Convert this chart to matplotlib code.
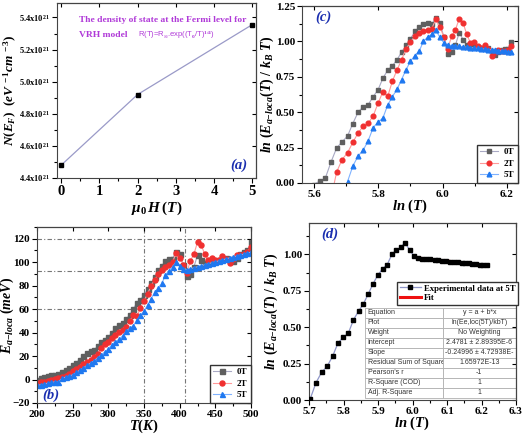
import numpy as np
import matplotlib
matplotlib.use('Agg')
import matplotlib.pyplot as plt
from matplotlib.ticker import MultipleLocator, FuncFormatter

plt.rcParams['font.family'] = ['Liberation Serif', 'DejaVu Serif']
plt.rcParams['font.weight'] = 'bold'
plt.rcParams['axes.labelweight'] = 'bold'
plt.rcParams['mathtext.fontset'] = 'custom'
plt.rcParams['mathtext.rm'] = 'Liberation Serif:bold'
plt.rcParams['mathtext.it'] = 'Liberation Serif:italic:bold'
plt.rcParams['mathtext.bf'] = 'Liberation Serif:bold'
plt.rcParams['axes.linewidth'] = 0.8

# ---------------- data ----------------
# panel (a): density of states at Fermi level (x 1e21 eV^-1 cm^-3)
field_T = [0, 2, 5]
N_EF = [4.48, 4.92, 5.355]

# panel (b): activation energy (meV) vs temperature
temps = list(range(200, 505, 5))
E_0T = [0, 1, 2, 3, 3.5, 4, 5, 6, 8, 10, 12, 14.5, 17, 20, 23, 24, 25, 28.5, 32, 34,
        36, 40, 44, 46.5, 48, 51.5, 55, 60.5, 65, 68, 72, 77, 82, 87, 93, 97, 101, 102.5,
        103, 109, 107, 98, 88, 90, 96, 106, 102, 99, 100, 101, 101, 102, 103, 104, 102,
        101, 104, 107, 109, 110, 117]
E_2T = [-3, -2.5, -2, -1.5, -0.5, 0.5, 1, 2, 3, 5, 7, 9, 11, 13, 15, 17, 19.5, 22, 27, 30,
        32, 35, 38, 40.5, 42, 45, 50, 55, 54, 61, 67, 73, 80, 85, 90, 93, 96, 98,
        100, 108, 104, 98, 91, 101, 107, 117, 115, 107, 102, 104, 102, 102, 105, 103, 99,
        103, 106, 106, 107, 109, 113]
E_5T = [-5, -4.5, -4, -3, -2.5, -2, -2, 1, 2, 3, 4, 6, 8, 10, 12, 14, 16, 18.5, 21, 23.5,
        26.1, 29.6, 32.3, 34.2, 37.2, 41.4, 43.7, 45.7, 50.8, 54.7, 58.4, 63.5, 69.0, 74.3,
        78.4, 81.9, 89.0, 92.9, 96.0, 100.2, 96.5, 93.9, 93.56, 94.41, 95.26, 96.12, 96.96,
        97.80, 98.65, 99.48, 100.32, 101.15, 101.98, 102.81, 103.64, 104.47, 105.29, 106.11,
        106.93, 107.74, 108.59]
series_labels = ['0T', '2T', '5T']

# panel (d): linear fit parameters (from the fit table)
fit_intercept = 2.4781
fit_slope = -0.24996
fit_T_start = 410
table_rows = [
    ["Equation", "y = a + b*x"],
    ["Plot", "ln(Ee,loc(5T)/kbT)"],
    ["Weight", "No Weighting"],
    ["Intercept", "2.4781 \u00b1 2.89395E-6"],
    ["Slope", "-0.24996 \u00b1 4.72938E-"],
    ["Residual Sum of Squares", "1.65972E-13"],
    ["Pearson's r", "-1"],
    ["R-Square (COD)", "1"],
    ["Adj. R-Square", "1"],
]

kB = 8.617e-2  # meV/K

# ---------------- styles ----------------
mk_col = ['#5f5f5f', '#f03030', '#1f78f0']
ln_col = ['#a9a9c4', '#ff9a9a', '#7fb2ff']
markers = ['s', 'o', '^']
panel_col = '#1b2fb0'
TICK = 8
LAB = 10

W, H = 524, 437
fig = plt.figure(figsize=(W / 100, H / 100), dpi=100)


def add_ax(l, r, t, b):
    return fig.add_axes([l / W, 1 - b / H, (r - l) / W, (b - t) / H])


def style(ax, xmaj, xmin, ymaj, ymin):
    ax.xaxis.set_major_locator(MultipleLocator(xmaj))
    ax.xaxis.set_minor_locator(MultipleLocator(xmin))
    ax.yaxis.set_major_locator(MultipleLocator(ymaj))
    ax.yaxis.set_minor_locator(MultipleLocator(ymin))
    ax.tick_params(which='both', direction='out', labelsize=TICK, width=0.8, pad=1.5)
    ax.tick_params(which='major', length=3.5)
    ax.tick_params(which='minor', length=2)
    for s in ax.spines.values():
        s.set_color('#444444')
    sx = ax.secondary_xaxis('top')
    sx.xaxis.set_major_locator(MultipleLocator(xmaj))
    sx.tick_params(direction='in', labeltop=False, length=3, width=0.8)
    sy = ax.secondary_yaxis('right')
    sy.yaxis.set_major_locator(MultipleLocator(ymaj))
    sy.tick_params(direction='in', labelright=False, length=3, width=0.8)


# ---------------- panel (a) ----------------
axa = add_ax(57, 256, 3, 178)
axa.plot(field_T, N_EF, color='#9a9ac8', lw=0.9, marker='s', ms=3.5,
         mfc='black', mec='black')
axa.set_xlim(-0.11, 5.1)
axa.set_ylim(4.4, 5.49)
style(axa, 1, 0.5, 0.2, 0.1)
axa.yaxis.set_major_formatter(FuncFormatter(lambda v, p: rf'{v:.1f}x10$^{{21}}$'))
axa.tick_params(axis='y', labelsize=6)
axa.tick_params(axis='x', labelsize=10.5)
axa.set_ylabel(r'$N(E_F)$  $(eV^{\,-1}cm^{\,-3})$', fontsize=9.5)
axa.yaxis.set_label_coords((19 - 57) / 199, 0.5)
axa.set_xlabel(r'$\mu_0\,H\,(T)$', fontsize=11, labelpad=1)
axa.text(0.53, 0.905, 'The density of state at the Fermi level for', transform=axa.transAxes,
         ha='center', va='center', color='#b03ad8', fontsize=6.8, fontweight='bold')
axa.text(0.23, 0.82, 'VRH model', transform=axa.transAxes,
         ha='center', va='center', color='#b03ad8', fontsize=6.8, fontweight='bold')
axa.text(0.6, 0.82, r'R(T)=R$_{\infty}$.exp((T$_0$/T)$^{1/4}$)', transform=axa.transAxes,
         ha='center', va='center', color='#b03ad8', fontsize=5.5,
         family=['Liberation Sans', 'DejaVu Sans'], fontweight='normal')
axa.text(0.915, 0.07, '(a)', transform=axa.transAxes, ha='center', va='center',
         color=panel_col, fontsize=10.5, fontweight='bold', style='italic')

# ---------------- panel (b) ----------------
axb = add_ax(37, 251, 227, 403)
for E, lab, mc, lc, m in zip([E_0T, E_2T, E_5T], series_labels, mk_col, ln_col, markers):
    axb.plot(temps, E, color=lc, lw=0.8, marker=m, ms=3.6, mfc=mc, mec=mc, label=lab)
axb.set_xlim(200, 500)
axb.set_ylim(-20, 130)
style(axb, 50, 25, 20, 10)
for yv in [120, 92.5, 60]:
    axb.axhline(yv, color='#777777', lw=0.8, ls=(0, (4, 2, 1, 2)), zorder=0)
for xv in [350, 408]:
    axb.axvline(xv, color='#777777', lw=0.8, ls=(0, (4, 2, 1, 2)), zorder=0)
axb.set_xlabel(r'$T(K)$', fontsize=10.5, labelpad=-1)
axb.set_ylabel(r'$E_{a\mathrm{-}loca}$ $(meV)$', fontsize=LAB)
axb.yaxis.set_label_coords((16 - 37) / 214, 0.5)
axb.text(0.065, 0.045, '(b)', transform=axb.transAxes, ha='center', va='center',
         color=panel_col, fontsize=10.5, fontweight='bold', style='italic')
axb.legend(loc='lower right', fontsize=6.5, frameon=True, fancybox=False, edgecolor='#333333',
           handlelength=2.0, handletextpad=0.6, borderpad=0.4, labelspacing=0.35,
           borderaxespad=0.0, framealpha=1)

# ---------------- panel (c) ----------------
lnT = np.log(np.array(temps, dtype=float))
axc = add_ax(302, 518, 6, 183)
for E, lab, mc, lc, m in zip([E_0T, E_2T, E_5T], series_labels, mk_col, ln_col, markers):
    E = np.array(E, dtype=float)
    with np.errstate(invalid='ignore', divide='ignore'):
        y = np.log(np.where(E > 0, E, np.nan) / (kB * np.array(temps)))
    axc.plot(lnT, y, color=lc, lw=0.8, marker=m, ms=3.4, mfc=mc, mec=mc, label=lab)
axc.set_xlim(5.562, 6.235)
axc.set_ylim(0, 1.25)
style(axc, 0.2, 0.1, 0.25, 0.125)
axc.yaxis.set_major_formatter(FuncFormatter(lambda v, p: f'{v:.2f}'))
axc.set_xlabel(r'$ln\ (T)$', fontsize=10.5, labelpad=-1)
axc.set_ylabel(r'$ln\ (E_{a\mathrm{-}loca}(T)\ /\ k_B\ T)$', fontsize=LAB)
axc.yaxis.set_label_coords((276 - 302) / 216, 0.5)
axc.text(0.1, 0.935, '(c)', transform=axc.transAxes, ha='center', va='center',
         color=panel_col, fontsize=10.5, fontweight='bold', style='italic')
axc.legend(loc='lower right', fontsize=6.5, frameon=True, fancybox=False, edgecolor='#333333',
           handlelength=2.0, handletextpad=0.6, borderpad=0.4, labelspacing=0.35,
           borderaxespad=0.0, framealpha=1)

# ---------------- panel (d) ----------------
axd = add_ax(309, 516, 223, 400)
T5 = np.array(temps, dtype=float)
E5 = np.array(E_5T, dtype=float)
sel = T5 >= 300
yd = np.log(E5[sel] / (kB * T5[sel]))
xfit = np.log(np.array([fit_T_start, temps[-1]], dtype=float))
axd.plot(xfit, fit_intercept + fit_slope * xfit, color='#ee1010', lw=2.2, zorder=2, label='Fit')
axd.plot(np.log(T5[sel]), yd, color='#8f96c8', lw=0.9, marker='s', ms=3.4, mfc='black',
         mec='black', zorder=3, label='Experimental data at 5T')
axd.set_xlim(5.7, 6.3)
axd.set_ylim(0, 1.215)
style(axd, 0.1, 0.05, 0.25, 0.125)
axd.yaxis.set_major_formatter(FuncFormatter(lambda v, p: f'{v:.2f}'))
axd.set_xlabel(r'$ln\ (T)$', fontsize=10.5, labelpad=-1)
axd.set_ylabel(r'$ln\ (E_{a\mathrm{-}loca}(T)\ /\ k_B\ T)$', fontsize=LAB)
axd.yaxis.set_label_coords((280 - 309) / 207, 0.5)
axd.text(0.1, 0.935, '(d)', transform=axd.transAxes, ha='center', va='center',
         color=panel_col, fontsize=10.5, fontweight='bold', style='italic')
h, l = axd.get_legend_handles_labels()
axd.legend(h[::-1], l[::-1], loc='upper left', bbox_to_anchor=(0.425, 0.668), fontsize=6.3,
           frameon=True, fancybox=False, edgecolor='#333333', handlelength=2.4,
           handletextpad=0.4, borderpad=0.3, labelspacing=0.15, borderaxespad=0.0,
           framealpha=1)
tb = axd.table(cellText=table_rows, bbox=[0.272, 0.012, 0.728, 0.508],
               colWidths=[0.513, 0.487], cellLoc='left')
tb.auto_set_font_size(False)
tb.set_fontsize(5.0)
for (r, c), cell in tb.get_celld().items():
    cell.set_edgecolor('#b0b0b0')
    cell.set_linewidth(0.6)
    cell.get_text().set_family(['Liberation Sans', 'DejaVu Sans'])
    cell.get_text().set_fontweight('normal')
    cell.get_text().set_color('#333333')
    if c == 1:
        cell.get_text().set_ha('center')
        cell._loc = 'center'
    cell.PAD = 0.03

fig.savefig('out.png', dpi=100)
